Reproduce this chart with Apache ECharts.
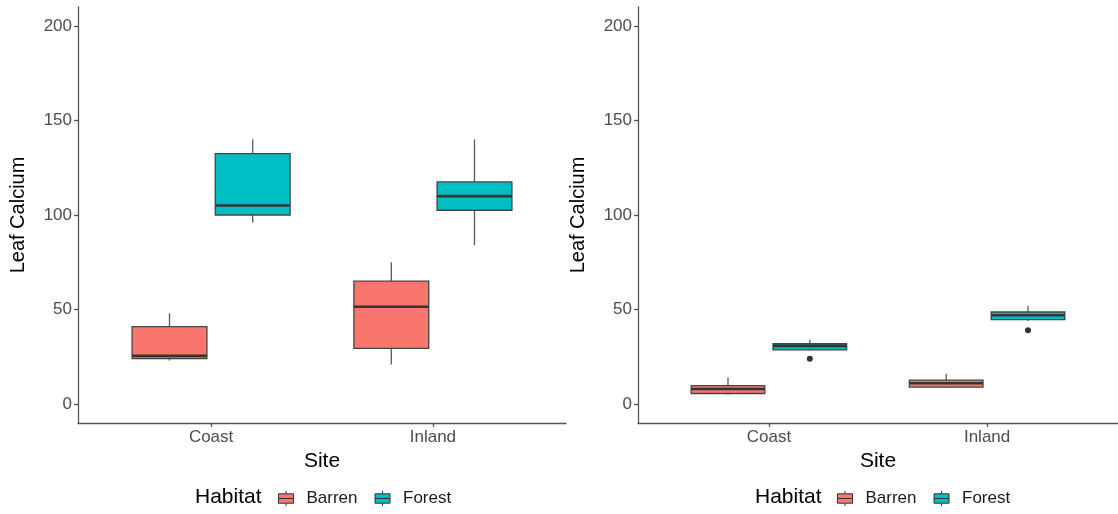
<!DOCTYPE html>
<html>
<head>
<meta charset="utf-8">
<script src="https://cdn.jsdelivr.net/npm/echarts@6/dist/echarts.min.js"></script>
<style>
html,body{margin:0;padding:0;background:#fff;}
#chart{width:1118px;height:514px;}
</style>
</head>
<body>
<div id="chart"></div>
<script>
// ---- data ----
const sites = ['Coast', 'Inland'];
const habitats = ['Barren', 'Forest'];
const yTicks = [0, 50, 100, 150, 200];
// [lower whisker, Q1, median, Q3, upper whisker] per site
const leftBarren = [[23, 24, 25.5, 41, 48], [21, 29.5, 51.5, 65, 75]];
const leftForest = [[96, 100, 105, 132.5, 140], [84, 102.5, 110, 117.5, 140]];
const rightBarren = [[5, 5.6, 8, 9.8, 14], [8.8, 9, 11, 12.7, 16]];
const rightForest = [[28.3, 28.7, 30.8, 31.9, 34], [44, 44.7, 47, 48.7, 52]];
// outliers per site (null = none)
const leftBarrenOut = [null, null];
const leftForestOut = [null, null];
const rightBarrenOut = [null, null];
const rightForestOut = [24, 39];

const colors = { Barren: '#F8766D', Forest: '#00BFC4' };
const FONT = '"Liberation Sans", Arial, Helvetica, sans-serif';
const DODGE = 0.1875, HALF = 0.16875;

function rows(vals) { return vals.map((v, k) => [k + 1].concat(v)); }

function makeRender(offset, outs, color) {
  return function (params, api) {
    const x = api.value(0) + offset;
    const low = api.value(1), q1 = api.value(2), med = api.value(3), q3 = api.value(4), high = api.value(5);
    const tl = api.coord([x - HALF, q3]);
    const br = api.coord([x + HALF, q1]);
    const c = v => api.coord([x, v]);
    const ml = api.coord([x - HALF, med]);
    const mr = api.coord([x + HALF, med]);
    const children = [
      { type: 'line', shape: { x1: c(q3)[0], y1: c(q3)[1], x2: c(high)[0], y2: c(high)[1] }, style: { stroke: '#5a5a5a', lineWidth: 1.3 } },
      { type: 'line', shape: { x1: c(q1)[0], y1: c(q1)[1], x2: c(low)[0], y2: c(low)[1] }, style: { stroke: '#5a5a5a', lineWidth: 1.3 } },
      { type: 'rect', shape: { x: tl[0], y: tl[1], width: br[0] - tl[0], height: br[1] - tl[1] }, style: { fill: color, stroke: '#444', lineWidth: 1.3 } },
      { type: 'line', shape: { x1: ml[0], y1: ml[1], x2: mr[0], y2: mr[1] }, style: { stroke: '#333', lineWidth: 2.6 } }
    ];
    const o = outs[params.dataIndex];
    if (o !== null && o !== undefined) {
      const p = c(o);
      children.push({ type: 'circle', shape: { cx: p[0], cy: p[1], r: 3 }, style: { fill: '#333' } });
    }
    return { type: 'group', children: children };
  };
}

function series(name, vals, outs, offset, idx) {
  return {
    type: 'custom', name: name, xAxisIndex: idx, yAxisIndex: idx,
    itemStyle: { color: colors[name] },
    renderItem: makeRender(offset, outs, colors[name]),
    encode: { x: 0, y: [1, 2, 3, 4, 5] },
    data: rows(vals), clip: false, silent: true
  };
}

const axisLineStyle = { color: '#555', width: 1.3 };
function xAxis(idx) {
  return {
    type: 'value', gridIndex: idx, min: 0.4, max: 2.6,
    name: 'Site', nameLocation: 'middle', nameGap: 25,
    nameTextStyle: { fontFamily: FONT, fontSize: 21, color: '#000' },
    axisLine: { show: true, onZero: false, lineStyle: axisLineStyle },
    axisTick: { show: true, length: 4, lineStyle: axisLineStyle, customValues: [1, 2] },
    axisLabel: { fontFamily: FONT, fontSize: 17, color: '#4D4D4D', margin: 6, customValues: [1, 2],
      formatter: v => sites[Math.round(v) - 1] || '' },
    splitLine: { show: false }
  };
}
function yAxis(idx) {
  return {
    type: 'value', gridIndex: idx, min: -10, max: 210,
    name: 'Leaf Calcium', nameLocation: 'middle', nameGap: 50, nameRotate: 90,
    nameTextStyle: { fontFamily: FONT, fontSize: 20, color: '#000' },
    axisLine: { show: true, onZero: false, lineStyle: axisLineStyle },
    axisTick: { show: true, length: 4, lineStyle: axisLineStyle, customValues: yTicks },
    axisLabel: { fontFamily: FONT, fontSize: 17, color: '#4D4D4D', margin: 6, customValues: yTicks },
    splitLine: { show: false }
  };
}

const ICON = 'path://M0,3L16,3L16,13L0,13Z M0,8L16,8 M8,0L8,3 M8,13L8,16';
function legend(left) {
  return {
    left: left, top: 490, orient: 'horizontal', padding: 0,
    itemWidth: 15, itemHeight: 15, itemGap: 17, icon: ICON,
    itemStyle: { borderColor: '#333', borderWidth: 1 },
    selectedMode: false,
    textStyle: { fontFamily: FONT, fontSize: 17, color: '#1a1a1a', padding: [0, 0, 0, 8] },
    data: habitats
  };
}

const chart = echarts.init(document.getElementById('chart'), null, { renderer: 'canvas' });
chart.setOption({
  backgroundColor: '#fff',
  animation: false,
  grid: [
    { left: 78, top: 7, width: 488, height: 416 },
    { left: 638, top: 7, width: 488, height: 416 }
  ],
  xAxis: [xAxis(0), xAxis(1)],
  yAxis: [yAxis(0), yAxis(1)],
  legend: [legend(278), legend(837)],
  graphic: [
    { type: 'text', left: 195, top: 487, style: { text: 'Habitat', font: '21px ' + FONT, fill: '#000' } },
    { type: 'text', left: 755, top: 487, style: { text: 'Habitat', font: '21px ' + FONT, fill: '#000' } }
  ],
  series: [
    series('Barren', leftBarren, leftBarrenOut, -DODGE, 0),
    series('Forest', leftForest, leftForestOut, DODGE, 0),
    series('Barren', rightBarren, rightBarrenOut, -DODGE, 1),
    series('Forest', rightForest, rightForestOut, DODGE, 1)
  ]
});
</script>
</body>
</html>
